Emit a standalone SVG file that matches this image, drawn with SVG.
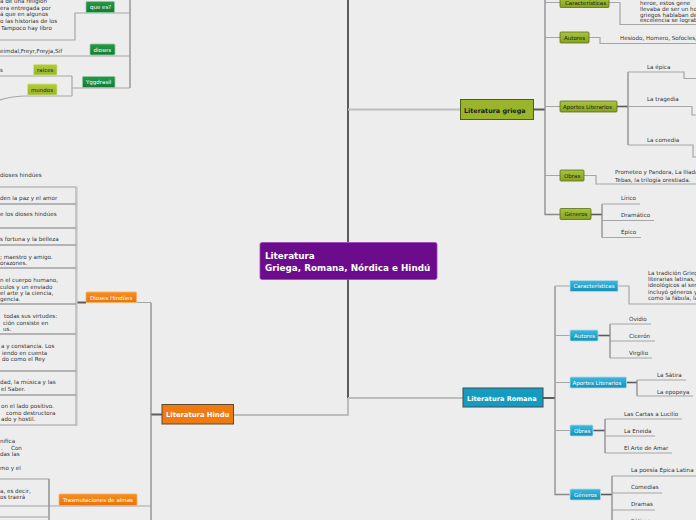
<svg xmlns="http://www.w3.org/2000/svg" width="696" height="520" viewBox="0 0 696 520">
<defs>
<linearGradient id="gG" x1="0" y1="0" x2="0" y2="1"><stop offset="0" stop-color="#a9c43e"/><stop offset="1" stop-color="#86a220"/></linearGradient>
<linearGradient id="gT" x1="0" y1="0" x2="0" y2="1"><stop offset="0" stop-color="#3fb8de"/><stop offset="1" stop-color="#1590b8"/></linearGradient>
<linearGradient id="gO" x1="0" y1="0" x2="0" y2="1"><stop offset="0" stop-color="#f5901f"/><stop offset="1" stop-color="#ea7207"/></linearGradient>
<linearGradient id="gN" x1="0" y1="0" x2="0" y2="1"><stop offset="0" stop-color="#27994b"/><stop offset="1" stop-color="#137a33"/></linearGradient>
<linearGradient id="gL" x1="0" y1="0" x2="0" y2="1"><stop offset="0" stop-color="#b3cc3c"/><stop offset="1" stop-color="#98b428"/></linearGradient>
</defs>
<style>
text{font-family:"DejaVu Sans",Verdana,sans-serif}
.t{font-size:5.6px;fill:#333}
.l{font-size:5.5px}
.w{fill:#fff}
.d{fill:#1c1c1c}
.b{font-weight:bold}
.c{fill:none;stroke:#a6a6a6;stroke-width:1.2}
.v{fill:none;stroke:#8a8a8a;stroke-width:1.3}
.k{fill:none;stroke:#5c5c5c;stroke-width:2}
.m{fill:none;stroke:#bdbdbd;stroke-width:2}
.bx{fill:none;stroke:#a0a0a0;stroke-width:1}
.gn{fill:url(#gG);stroke:#5b6e18;stroke-width:.8}
.tn{fill:url(#gT);stroke:#a9dcec;stroke-width:.8}
.on{fill:url(#gO);stroke:#f7b060;stroke-width:.8}
.nn{fill:url(#gN);stroke:#8cc9a0;stroke-width:.8}
.ln{fill:url(#gL);stroke:#cfe08a;stroke-width:.8}
</style>
<rect x="0" y="0" width="696" height="520" fill="#ededed"/>

<g id="connectors">
<path class="k" d="M348,0 V242 M348,279 V398"/>
<path class="m" d="M348,398 V415 H233.5 M348,398 H463 M348,109.5 H460.5"/>
<!-- Griega -->
<path class="k" d="M533.5,109.5 H545"/>
<path class="v" d="M545,0 V214.5 H560"/>
<path class="c" d="M545,2.5 H560 M545,37.5 H560 M545,106.5 H560 M545,175.5 H560"/>
<path class="c" d="M609,2.5 H620 V24.5 H696 M589,37.5 H600 V43.5 H696"/>
<path class="k" d="M617,106.5 H628" style="stroke-width:1.6"/>
<path class="v" d="M628,72 V145"/>
<path class="c" d="M628,72 H684 V78.5 H696 M628,106.5 H692 V115 H696 M628,145 H693 V157 H696"/>
<path class="c" d="M584,175.5 H596 V184 H696"/>
<path class="k" d="M591,214.5 H602" style="stroke-width:1.6"/>
<path class="v" d="M602,204 V237.5"/>
<path class="c" d="M602,204 H640 M602,220.5 H654 M602,237.5 H641"/>
<!-- Romana -->
<path class="k" d="M543,398 H555"/>
<path class="v" d="M555,286 V494.5 H570"/>
<path class="c" d="M555,286 H570 M555,335.5 H570 M555,382.5 H570 M555,430.5 H570"/>
<path class="c" d="M618,286 H629 V304 H696"/>
<path class="k" d="M598,335.5 H610" style="stroke-width:1.6"/>
<path class="v" d="M610,324 V358"/>
<path class="c" d="M610,324 H651 M610,341 H655 M610,358 H652"/>
<path class="k" d="M626.5,382.5 H637" style="stroke-width:1.6"/>
<path class="v" d="M637,380 V396"/>
<path class="c" d="M637,380 H686 M637,396 H693"/>
<path class="k" d="M593,430.5 H605" style="stroke-width:1.6"/>
<path class="v" d="M605,419 V453"/>
<path class="c" d="M605,419 H682 M605,436 H655 M605,453 H672"/>
<path class="k" d="M600.5,494.5 H612" style="stroke-width:1.6"/>
<path class="v" d="M612,476 V520"/>
<path class="c" d="M612,476 H696 M612,493 H662 M612,510 H655"/>
<!-- Hindu -->
<path class="k" d="M162,414.5 H151"/>
<path class="v" d="M151,302.5 V520"/>
<path class="c" d="M136.5,302.5 H151 M151,506 H49"/>
<path class="k" d="M86,302.5 H77"/>
<path class="v" d="M49,479 V520"/>
<!-- Nordic -->
<path class="v" d="M130,0 V88"/>
<path class="c" d="M130,13 H75 V40 H0 M130,56 H0 M130,88 H72 M72,76 V96 M72,76 H0 M72,96 H27 Q12,96 0,100"/>
</g>

<g id="hindu-boxes">
<rect class="bx" x="-2" y="187" width="78" height="17"/>
<rect class="bx" x="-2" y="204" width="78" height="24"/>
<rect class="bx" x="-2" y="228" width="78" height="17"/>
<rect class="bx" x="-2" y="245" width="78" height="23"/>
<rect class="bx" x="-2" y="268" width="78" height="36"/>
<rect class="bx" x="-2" y="304" width="78" height="30"/>
<rect class="bx" x="-2" y="334" width="78" height="37"/>
<rect class="bx" x="-2" y="371" width="78" height="24"/>
<rect class="bx" x="-2" y="395" width="78" height="30"/>
<path d="M77,187 V425.5 H0" fill="none" stroke="#c4c4c4" stroke-width="1.2"/>
<rect class="bx" x="-2" y="479" width="51" height="27"/>
<path d="M0,517 H49" fill="none" stroke="#a0a0a0" stroke-width="1"/>
</g>

<g id="texts">
<text class="t" x="0" y="3">a de una religion</text>
<text class="t" x="0" y="9.5">era entregada por</text>
<text class="t" x="0" y="16.3">á que en algunos</text>
<text class="t" x="0" y="23">o las historias de los</text>
<text class="t" x="1" y="29.5">Tampoco hay libro</text>
<text class="t" x="0" y="52.5">eimdal,Freyr,Freyja,Sif</text>
<text class="t" x="0" y="72">s</text>

<text class="t" x="0" y="177">dioses hindúes</text>
<text class="t" x="0" y="200">den la paz y el amor</text>
<text class="t" x="0" y="216">e los dioses hindúes</text>
<text class="t" x="0" y="241">s fortuna y la belleza</text>
<text class="t" x="0" y="258.5">; maestro y amigo.</text>
<text class="t" x="0" y="264.5">orazones.</text>
<text class="t" x="0" y="282">n el cuerpo humano,</text>
<text class="t" x="0" y="288.5">culos y un enviado</text>
<text class="t" x="0" y="294.8">el arte y la ciencia,</text>
<text class="t" x="0" y="301">gencia.</text>
<text class="t" x="4" y="318">todas sus virtudes:</text>
<text class="t" x="3" y="324.5">ción consiste en</text>
<text class="t" x="3" y="331">us.</text>
<text class="t" x="1" y="348">a y constancia. Los</text>
<text class="t" x="2" y="354.5">iendo en cuenta</text>
<text class="t" x="2" y="361">do como el Rey</text>
<text class="t" x="0" y="384">dad, la música y las</text>
<text class="t" x="1" y="390.5">el Saber.</text>
<text class="t" x="1" y="408">on el lado positivo.</text>
<text class="t" x="6" y="414.5">como destructora</text>
<text class="t" x="1" y="421">ado y hostil.</text>
<text class="t" x="0" y="443">nifica</text>
<text class="t" x="1" y="449.5">.</text>
<text class="t" x="11" y="449.5">Con</text>
<text class="t" x="0" y="456">das las</text>
<text class="t" x="0" y="469.5">mo y el</text>
<text class="t" x="0" y="492.5">a, es decir,</text>
<text class="t" x="0" y="499">os traerá</text>

<text class="t" x="640" y="5">heroe, estos gene</text>
<text class="t" x="640" y="11">llevaba de ser un ho</text>
<text class="t" x="640" y="16.5">griegos hablaban de</text>
<text class="t" x="640" y="22">excelencia se lograba</text>
<text class="t" x="620" y="40">Hesiodo, Homero, Sofocles,</text>
<text class="t" x="647" y="68.5">La épica</text>
<text class="t" x="647" y="101">La tragedia</text>
<text class="t" x="647" y="142">La comedia</text>
<text class="t" x="615" y="174">Prometeo y Pandora, La Iliada</text>
<text class="t" x="615" y="181.5">Tebas, la trilogía orestiada.</text>
<text class="t" x="621" y="200">Lírico</text>
<text class="t" x="621" y="217">Dramático</text>
<text class="t" x="621" y="234">Épico</text>

<text class="t" x="648" y="275">La tradición Grieg</text>
<text class="t" x="648" y="281">literarias latinas,</text>
<text class="t" x="648" y="287">ideológicos al ser</text>
<text class="t" x="648" y="294">incluyó géneros y</text>
<text class="t" x="648" y="300">como la fábula, la</text>
<text class="t" x="629" y="321">Ovidio</text>
<text class="t" x="629" y="338">Cicerón</text>
<text class="t" x="629" y="355">Virgilio</text>
<text class="t" x="657" y="377">La Sátira</text>
<text class="t" x="657" y="394">La epopeya</text>
<text class="t" x="624" y="416">Las Cartas a Lucilio</text>
<text class="t" x="624" y="433">La Eneida</text>
<text class="t" x="624" y="450">El Arte de Amar</text>
<text class="t" x="631" y="472">La poesía Épica Latina</text>
<text class="t" x="631" y="489">Comedias</text>
<text class="t" x="631" y="506">Dramas</text>
<text class="t" x="631" y="523">Sátiras</text>
</g>

<g id="node-central">
<rect x="260" y="242.5" width="177" height="37" rx="2" fill="#6c0b8b" stroke="#9a4ab5" stroke-width=".8"/>
<text class="w b" x="265" y="259" font-size="8.8">Literatura</text>
<text class="w b" x="265" y="270.5" font-size="8.8">Griega, Romana, Nórdica e Hindú</text>
</g>

<g id="node-griega">
<rect x="460.5" y="99.5" width="73" height="20" fill="#9ab52c" stroke="#4f5f16" stroke-width="1"/>
<text class="d b" x="464" y="112.5" font-size="6.4">Literatura griega</text>
</g>
<g id="node-g-caracteristicas"><rect class="gn" x="560" y="-3" width="49" height="10.5" rx="1"/><text class="l d" x="565" y="4.5">Características</text></g>
<g id="node-g-autores"><rect class="gn" x="560" y="32" width="29" height="11" rx="1"/><text class="l d" x="564" y="39.8">Autores</text></g>
<g id="node-g-aportes"><rect class="gn" x="560" y="101" width="57" height="11" rx="1"/><text class="l d" x="563" y="108.8">Aportes Literarios</text></g>
<g id="node-g-obras"><rect class="gn" x="560" y="170" width="24" height="11" rx="1"/><text class="l d" x="564" y="177.8">Obras</text></g>
<g id="node-g-generos"><rect class="gn" x="560" y="208.5" width="31" height="11" rx="1"/><text class="l d" x="564.5" y="216.3">Géneros</text></g>

<g id="node-romana">
<rect x="463" y="388" width="80" height="19" fill="#149cc0" stroke="#3e4c55" stroke-width="1"/>
<text class="w b" x="467" y="400.5" font-size="6.6">Literatura Romana</text>
</g>
<g id="node-r-caracteristicas"><rect class="tn" x="570" y="280.5" width="48" height="11" rx="1"/><text class="l w" x="573.5" y="288.3">Características</text></g>
<g id="node-r-autores"><rect class="tn" x="570" y="330" width="28" height="11" rx="1"/><text class="l w" x="574" y="337.8">Autores</text></g>
<g id="node-r-aportes"><rect class="tn" x="570" y="377" width="56.5" height="11" rx="1"/><text class="l w" x="572.5" y="384.8">Aportes Literarios</text></g>
<g id="node-r-obras"><rect class="tn" x="570" y="425" width="23" height="11" rx="1"/><text class="l w" x="574" y="432.8">Obras</text></g>
<g id="node-r-generos"><rect class="tn" x="570" y="489" width="30.5" height="11" rx="1"/><text class="l w" x="574" y="496.8">Géneros</text></g>

<g id="node-hindu">
<rect x="162" y="404.5" width="71.5" height="19.5" fill="#ef7a12" stroke="#5d4a33" stroke-width="1"/>
<text class="w b" x="166" y="416.8" font-size="6.8">Literatura Hindu</text>
</g>
<g id="node-h-dioses"><rect class="on" x="86" y="292" width="50.5" height="10.5" rx="1"/><text class="l w" x="90" y="299.6">Dioses Hindúes</text></g>
<g id="node-h-trasmutaciones"><rect class="on" x="59" y="494" width="78" height="11.5" rx="1"/><text class="l w" x="63" y="502">Trasmutaciones de almas</text></g>

<g id="node-n-quees"><rect class="nn" x="86" y="1.5" width="28.5" height="11" rx="1"/><text class="l w" x="90" y="9.2">que es?</text></g>
<g id="node-n-dioses"><rect class="nn" x="90" y="44" width="25" height="11" rx="1"/><text class="l w" x="93.5" y="51.7">dioses</text></g>
<g id="node-n-yggdrasil"><rect class="nn" x="82.5" y="76.5" width="32.5" height="11" rx="1"/><text class="l w" x="86" y="84.2">Yggdrasil</text></g>
<g id="node-n-raices"><rect class="ln" x="33.5" y="64.5" width="23.5" height="10.5" rx="1"/><text class="l d" x="37" y="72">raices</text></g>
<g id="node-n-mundos"><rect class="ln" x="27.5" y="84" width="29.5" height="11" rx="1"/><text class="l d" x="31" y="91.7">mundos</text></g>
</svg>
